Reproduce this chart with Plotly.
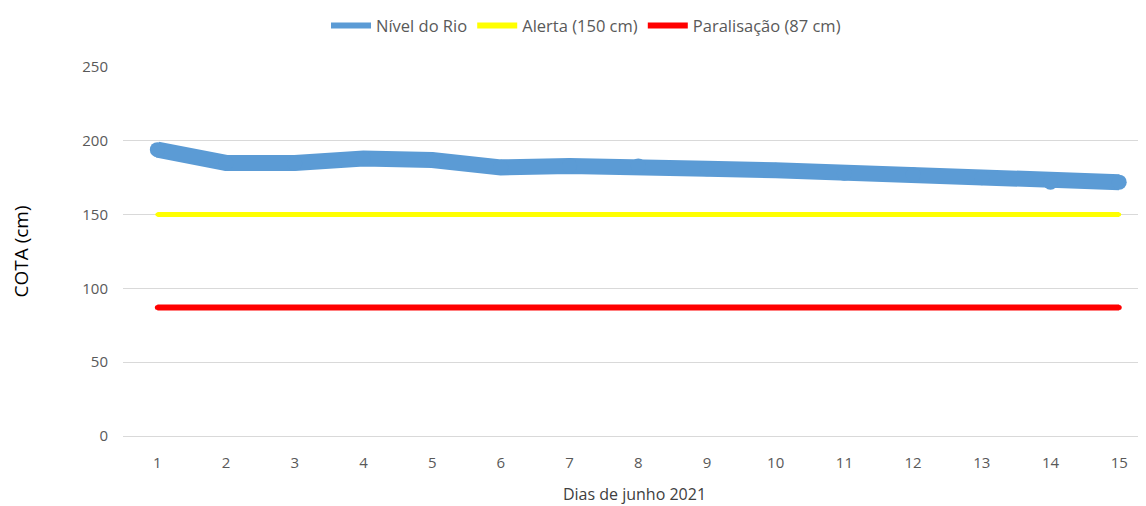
import plotly.graph_objects as go

days = list(range(1, 16))
nivel = [194, 185, 185, 188, 187, 182, 183, 183, 181, 180, 178, 177, 175, 172, 172]
alerta = [150] * 15
paralisacao = [87] * 15
tick_vals_y = [0, 50, 100, 150, 200, 250]

names = ["Nível do Rio", "Alerta (150 cm)", "Paralisação (87 cm)"]
colors = ["#5b9bd5", "#ffff00", "#ff0000"]
series = [nivel, alerta, paralisacao]
widths = [16, 5, 6]

fig = go.Figure()
for n, c, s, w in zip(names, colors, series, widths):
    fig.add_trace(go.Scatter(x=days, y=s, mode="lines+markers", name=n, showlegend=False,
                             line=dict(color=c, width=w),
                             marker=dict(color=c, size=w - 1, line=dict(width=0))))
# legend-only entries with thinner sample lines
for n, c in zip(names, colors):
    fig.add_trace(go.Scatter(x=[None], y=[None], mode="lines", name=n,
                             line=dict(color=c, width=6)))

fig.update_layout(
    width=1138, height=506,
    margin=dict(l=115, r=0, t=54, b=78),
    paper_bgcolor="white", plot_bgcolor="white",
    font=dict(family="Open Sans, Noto Sans, sans-serif", color="#595959", size=15),
    legend=dict(orientation="h", x=0.4526, xanchor="center", y=1.112, yanchor="middle",
                font=dict(size=16.5, color="#595959"), itemwidth=40, tracegroupgap=0),
    xaxis=dict(range=[0.5, 15.39], tickmode="array", tickvals=days, automargin=False,
               ticktext=[str(d) for d in days], showgrid=False, zeroline=False,
               showline=False, ticks="", ticklabelstandoff=16,
               title=dict(text="Dias de junho 2021", font=dict(size=16, color="#404040"), standoff=17)),
    yaxis=dict(range=[0, 250], tickmode="array", tickvals=tick_vals_y, automargin=False,
               showgrid=True, gridcolor="#d9d9d9", gridwidth=1, zeroline=True,
               zerolinecolor="#d9d9d9", zerolinewidth=1, ticks="", ticklabelstandoff=14,
               title=dict(text="COTA (cm)", font=dict(size=19, color="#000000"), standoff=49)),
)

fig.write_html("out.html")
